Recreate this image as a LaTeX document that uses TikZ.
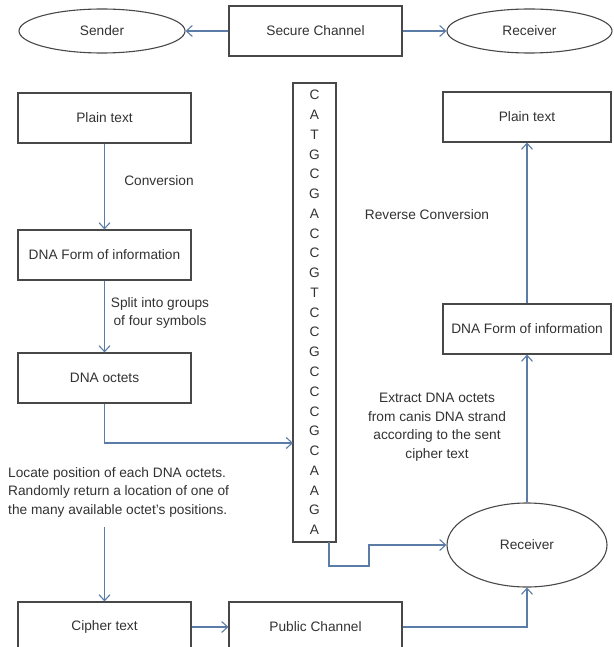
\documentclass[tikz,border=0pt]{standalone}
\usepackage{fontspec}
\setmainfont{Liberation Sans}
\usetikzlibrary{arrows.meta,shapes.geometric}

\definecolor{linkblue}{RGB}{92,124,168}
\definecolor{edgegray}{RGB}{72,72,72}
\definecolor{inkgray}{RGB}{50,50,50}

\tikzset{
  labelfont/.style={font=\fontsize{13.7}{18.5}\selectfont, text=inkgray},
  stepbox/.style={labelfont, draw=edgegray, line width=1.1pt, rectangle,
    minimum width=173pt, minimum height=50pt, inner sep=0pt},
  party/.style={labelfont, draw=edgegray, line width=1.1pt, ellipse, inner sep=0pt},
  flow/.style={draw=linkblue, line width=1.1pt,
    -{Straight Barb[length=6pt,width=11pt,line width=1.1pt]}},
  note/.style={labelfont, inner sep=0pt},
  base/.style={labelfont, inner sep=0pt}
}

\begin{document}
\begin{tikzpicture}[x=1pt,y=-1pt]
\useasboundingbox (0,0) rectangle (613,647);
\clip (0,0) rectangle (613,647);

% key exchange over the secure channel
\node[party, minimum width=166pt, minimum height=44pt] (sender) at (102,31) {Sender};
\node[stepbox] (secure) at (315.5,31) {Secure Channel};
\node[party, minimum width=165pt, minimum height=44pt] (recvtop) at (529.5,31) {Receiver};
\draw[flow] (secure) -- (sender);
\draw[flow] (secure) -- (recvtop);

% encryption side
\node[stepbox] (plainL) at (104.5,118) {Plain text};
\node[stepbox] (dnaL) at (104.5,255) {DNA Form of information};
\node[stepbox] (octets) at (104.5,378) {DNA octets};
\node[stepbox] (cipher) at (104.5,627) {Cipher text};
\node[stepbox] (public) at (315.5,627) {Public Channel};

% decryption side
\node[stepbox, minimum width=168pt] (plainR) at (527,117) {Plain text};
\node[stepbox, minimum width=168pt] (dnaR) at (527,329) {DNA Form of information};
\node[party, minimum width=160pt, minimum height=84pt] (recvbot) at (527,545) {Receiver};

% reference DNA strand
\node[draw=edgegray, line width=1.1pt, minimum width=43pt, minimum height=459pt,
      inner sep=0pt] (strand) at (314.5,312.5) {};
\foreach \b [count=\i from 0] in {C,A,T,G,C,G,A,C,C,G,T,C,C,G,C,C,C,G,C,A,A,G,A}
  \node[base] (nuc\i) at (314.5,{95+19.77*\i}) {\b};

% step labels
\node[note] (conv) at (159,181) {Conversion};
\node[note, align=center] (split) at (160,313) {Split into groups\\of four symbols};
\node[note] (revconv) at (427,215) {Reverse Conversion};
\node[note, align=center] (extract) at (437,427)
  {Extract DNA octets\\from canis DNA strand\\according to the sent\\cipher text};
\node[note, align=left, anchor=west] (locate) at (8,492)
  {Locate position of each DNA octets.\\Randomly return a location of one of\\the many available octet's positions.};

% connector ends
\coordinate (strandin) at (293,443);
\coordinate (strandout) at (329,542);
\coordinate (locstart) at (104.5,527);

% connectors
\draw[flow] (plainL) -- (dnaL);
\draw[flow] (dnaL) -- (octets);
\draw[flow] (octets.south) |- (strandin);
\draw[flow] (locstart) -- (cipher);
\draw[flow] (cipher) -- (public);
\draw[flow] (public.east) -| (recvbot.south);
\draw[flow] (strandout) |- (369,566) |- (recvbot.west);
\draw[flow] (recvbot.north) -- (dnaR.south);
\draw[flow] (dnaR) -- (plainR);
\end{tikzpicture}
\end{document}
